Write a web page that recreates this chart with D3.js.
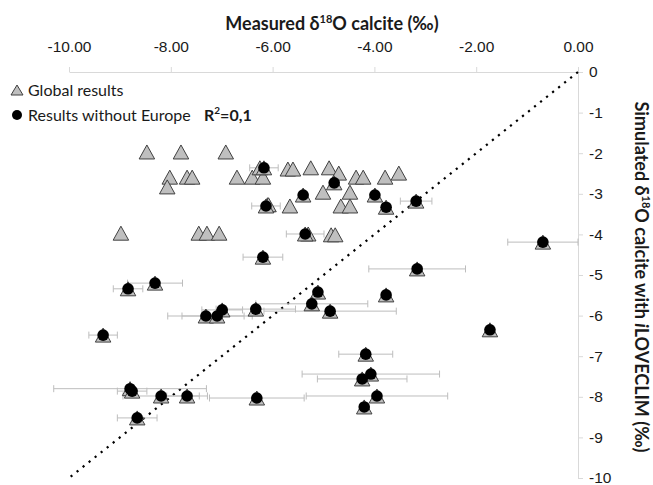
<!DOCTYPE html>
<html>
<head>
<meta charset="utf-8">
<script src="https://cdn.jsdelivr.net/npm/d3@7"></script>
<style>
  html, body { margin: 0; padding: 0; background: #fff; }
  svg { display: block; font-family: Lato, "Open Sans", sans-serif; }
</style>
</head>
<body>
<svg id="chart" width="653" height="485"></svg>
<script>
// ---- Data ----
const xTickValues = [-10, -8, -6, -4, -2, 0];
const yTickValues = [0, -1, -2, -3, -4, -5, -6, -7, -8, -9, -10];

// Results without Europe (circles), with horizontal error (‰)
const noEuropeX = [-6.17, -4.79, -5.40, -3.99, -3.77, -3.18, -6.13, -5.36, -6.19, -0.69, -3.16, -8.31, -8.84, -3.77, -5.11, -5.23, -4.87, -6.33, -6.99, -7.31, -7.09, -9.33, -1.73, -4.17, -4.07, -4.24, -8.80, -8.76, -8.19, -7.68, -6.31, -8.66, -3.95, -4.20];
const noEuropeY = [-2.36, -2.73, -3.03, -3.03, -3.33, -3.18, -3.30, -3.99, -4.56, -4.19, -4.85, -5.20, -5.34, -5.49, -5.42, -5.71, -5.89, -5.84, -5.86, -6.01, -6.01, -6.48, -6.35, -6.95, -7.44, -7.56, -7.80, -7.86, -7.98, -7.98, -8.03, -8.52, -7.98, -8.25];
const noEuropeErr = [0.28, 0, 0, 0, 0, 0.31, 0.28, 0.37, 0.39, 0.69, 0.95, 0.54, 0.29, 0, 0, 1.1, 1.3, 0.78, 0.4, 0.75, 0.69, 0.28, 0, 0.53, 1.35, 0.88, 1.5, 0.29, 0.75, 0.4, 0.93, 0.39, 1.39, 0];

// Additional sites only in the global results (triangles)
const europeX = [-8.47, -7.80, -6.92, -8.02, -7.68, -7.58, -6.70, -6.40, -6.19, -8.07, -5.70, -5.60, -5.25, -4.89, -4.70, -4.36, -4.22, -3.79, -3.52, -5.01, -4.48, -5.66, -4.66, -4.48, -8.98, -7.45, -7.29, -7.05, -5.30, -4.85, -4.77, -6.25, -6.10, -6.08];
const europeY = [-1.97, -1.97, -1.97, -2.59, -2.59, -2.59, -2.59, -2.59, -2.59, -2.83, -2.39, -2.39, -2.36, -2.36, -2.49, -2.59, -2.59, -2.59, -2.49, -2.96, -2.96, -3.30, -3.30, -3.30, -3.97, -3.97, -3.97, -3.97, -3.99, -4.01, -4.01, -2.36, -3.27, -3.27];

const globalX = europeX.concat(noEuropeX);
const globalY = europeY.concat(noEuropeY);

const oneToOne = [[0, 0], [-10, -10]];

// ---- Layout ----
const svg = d3.select("#chart");
const x = d3.scaleLinear().domain([-10, 0]).range([69, 578]);
const y = d3.scaleLinear().domain([-10, 0]).range([478, 72]);

const axisColor = "#d9d9d9";
const textColor = "#1a1a1a";

// Top x axis
const xAxis = svg.append("g").attr("transform", `translate(0,${y(0)})`)
  .call(d3.axisTop(x).tickValues(xTickValues).tickSize(5).tickSizeOuter(0)
    .tickFormat(v => v.toFixed(2)));
xAxis.select(".domain").attr("stroke", axisColor);
xAxis.selectAll(".tick line").attr("stroke", axisColor);
xAxis.selectAll(".tick text").attr("fill", textColor).attr("font-size", 15.5).attr("dy", "-0.75em");

// Right y axis
const yAxis = svg.append("g").attr("transform", `translate(${x(0)},0)`)
  .call(d3.axisRight(y).tickValues(yTickValues).tickSize(5).tickSizeOuter(0)
    .tickFormat(v => String(v)));
yAxis.select(".domain").attr("stroke", axisColor);
yAxis.selectAll(".tick line").attr("stroke", axisColor);
yAxis.selectAll(".tick text").attr("fill", textColor).attr("font-size", 15.5).attr("x", 11);

// 1:1 dotted line
svg.append("line")
  .attr("x1", x(oneToOne[0][0])).attr("y1", y(oneToOne[0][1]))
  .attr("x2", x(oneToOne[1][0])).attr("y2", y(oneToOne[1][1]))
  .attr("stroke", "#000").attr("stroke-width", 2.2)
  .attr("stroke-dasharray", "2.2,5.5");

// Error bars
const errData = noEuropeX.map((v, i) => ({x: v, y: noEuropeY[i], e: noEuropeErr[i]})).filter(d => d.e > 0);
const eb = svg.append("g").attr("stroke", "#bdbdbd").attr("stroke-width", 1);
eb.selectAll("line.bar").data(errData).join("line")
  .attr("x1", d => x(d.x - d.e)).attr("x2", d => x(d.x + d.e))
  .attr("y1", d => y(d.y)).attr("y2", d => y(d.y));
eb.selectAll("line.capL").data(errData).join("line").attr("class", "capL")
  .attr("x1", d => x(d.x - d.e)).attr("x2", d => x(d.x - d.e))
  .attr("y1", d => y(d.y) - 3.5).attr("y2", d => y(d.y) + 3.5);
eb.selectAll("line.capR").data(errData).join("line").attr("class", "capR")
  .attr("x1", d => x(d.x + d.e)).attr("x2", d => x(d.x + d.e))
  .attr("y1", d => y(d.y) - 3.5).attr("y2", d => y(d.y) + 3.5);

// Triangles (global)
const tri = (w, h) => `M0,${-h/2}L${w/2},${h/2}L${-w/2},${h/2}Z`;
svg.append("g").selectAll("path").data(globalX.map((v, i) => [v, globalY[i]])).join("path")
  .attr("d", tri(15.5, 14))
  .attr("transform", d => `translate(${x(d[0])},${y(d[1])})`)
  .attr("fill", "#bfbfbf").attr("stroke", "#404040").attr("stroke-width", 1);

// Circles (without Europe)
svg.append("g").selectAll("circle").data(noEuropeX.map((v, i) => [v, noEuropeY[i]])).join("circle")
  .attr("cx", d => x(d[0])).attr("cy", d => y(d[1])).attr("r", 5.8)
  .attr("fill", "#000");

// Legend
const lg = svg.append("g");
lg.append("path").attr("d", tri(12, 10)).attr("transform", "translate(17,90)")
  .attr("fill", "#bfbfbf").attr("stroke", "#404040");
lg.append("text").attr("x", 28).attr("y", 95.5).attr("font-size", 16).attr("fill", textColor).text("Global results");
lg.append("circle").attr("cx", 17).attr("cy", 115).attr("r", 5).attr("fill", "#000");
lg.append("text").attr("x", 28).attr("y", 120.5).attr("font-size", 16).attr("fill", textColor).text("Results without Europe");
const r2 = lg.append("text").attr("x", 204).attr("y", 120.5).attr("font-size", 16).attr("font-weight", "bold").attr("fill", textColor);
r2.append("tspan").text("R");
r2.append("tspan").attr("font-size", 10).attr("dy", -7).text("2");
r2.append("tspan").attr("dy", 7).text("=0,1");

// X title
const xt = svg.append("text").attr("x", 332).attr("y", 30).attr("text-anchor", "middle")
  .attr("font-size", 18).attr("font-weight", "bold").attr("fill", textColor);
xt.append("tspan").text("Measured δ");
xt.append("tspan").attr("font-size", 11).attr("dy", -7).text("18");
xt.append("tspan").attr("dy", 7).text("O calcite (‰)");

// Y title (rotated)
const yt = svg.append("text").attr("transform", "translate(635,277) rotate(90)")
  .attr("text-anchor", "middle").attr("font-size", 18).attr("font-weight", "bold").attr("fill", textColor);
yt.append("tspan").text("Simulated δ");
yt.append("tspan").attr("font-size", 11).attr("dy", -7).text("18");
yt.append("tspan").attr("dy", 7).text("O calcite with ");
yt.append("tspan").attr("font-style", "italic").text("i");
yt.append("tspan").text("LOVECLIM (‰)");
</script>
</body>
</html>
